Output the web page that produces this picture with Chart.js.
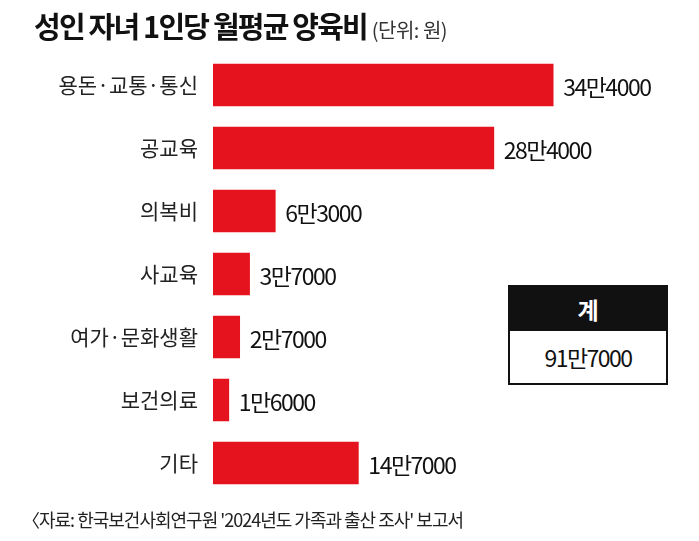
<!DOCTYPE html>
<html>
<head>
<meta charset="utf-8">
<script src="https://cdn.jsdelivr.net/npm/chart.js@4"></script>
<style>
  body { margin: 0; background: #fff; font-family: "Noto Sans CJK KR", sans-serif; }
  #wrap { position: relative; width: 699px; height: 541px; }
  #title { position: absolute; left: 34px; top: 4px; font-size: 29px; font-weight: 700; letter-spacing: -1.8px; color: #111; }
  #title span { font-size: 20px; font-weight: 400; letter-spacing: -0.5px; color: #333; }
  #total { position: absolute; left: 508px; top: 285px; width: 156px; border: 2px solid #111; }
  #total .head { background: #111; color: #fff; text-align: center; font-size: 23px; font-weight: 700; height: 44px; line-height: 44px; }
  #total .val { background: #fff; color: #111; text-align: center; font-size: 23px; height: 52px; line-height: 52px; letter-spacing: -1.5px; }
  #source { position: absolute; left: 22px; top: 506px; font-size: 18px; color: #222; letter-spacing: -1px; }
  canvas { position: absolute; left: 0; top: 0; }
</style>
</head>
<body>
<div id="wrap">
  <canvas id="chart" width="699" height="541"></canvas>
  <div id="title">성인 자녀 1인당 월평균 양육비 <span>(단위: 원)</span></div>
  <div id="total"><div class="head">계</div><div class="val">91만7000</div></div>
  <div id="source">〈자료: 한국보건사회연구원 '2024년도 가족과 출산 조사' 보고서</div>
</div>
<script>
const categories = ['용돈·교통·통신', '공교육', '의복비', '사교육', '여가·문화생활', '보건의료', '기타'];
const values = [344000, 284000, 63000, 37000, 27000, 16000, 147000];
const valueLabels = ['34만4000', '28만4000', '6만3000', '3만7000', '2만7000', '1만6000', '14만7000'];

const barLabels = {
  id: 'barLabels',
  afterDatasetsDraw(chart) {
    const ctx = chart.ctx;
    const meta = chart.getDatasetMeta(0);
    ctx.save();
    ctx.font = '23px "Noto Sans CJK KR"';
    ctx.letterSpacing = '-1.5px';
    ctx.fillStyle = '#111';
    ctx.textBaseline = 'middle';
    meta.data.forEach((bar, i) => {
      ctx.fillText(valueLabels[i], bar.x + 10, bar.y + 2);
    });
    ctx.restore();
  }
};

new Chart(document.getElementById('chart'), {
  type: 'bar',
  data: {
    labels: categories,
    datasets: [{
      data: values,
      backgroundColor: '#e5131d',
      barThickness: 42
    }]
  },
  options: {
    indexAxis: 'y',
    responsive: false,
    animation: false,
    layout: { padding: { top: 53.5, bottom: 46.5, right: 41 } },
    plugins: { legend: { display: false }, tooltip: { enabled: false } },
    scales: {
      x: { min: 0, max: 450000, display: false },
      y: {
        grid: { display: false },
        border: { display: false },
        afterFit(scale) { scale.width = 213; },
        ticks: {
          color: '#222',
          padding: 7,
          font: { family: 'Noto Sans CJK KR', size: 21 }
        }
      }
    }
  },
  plugins: [barLabels]
});
</script>
</body>
</html>
